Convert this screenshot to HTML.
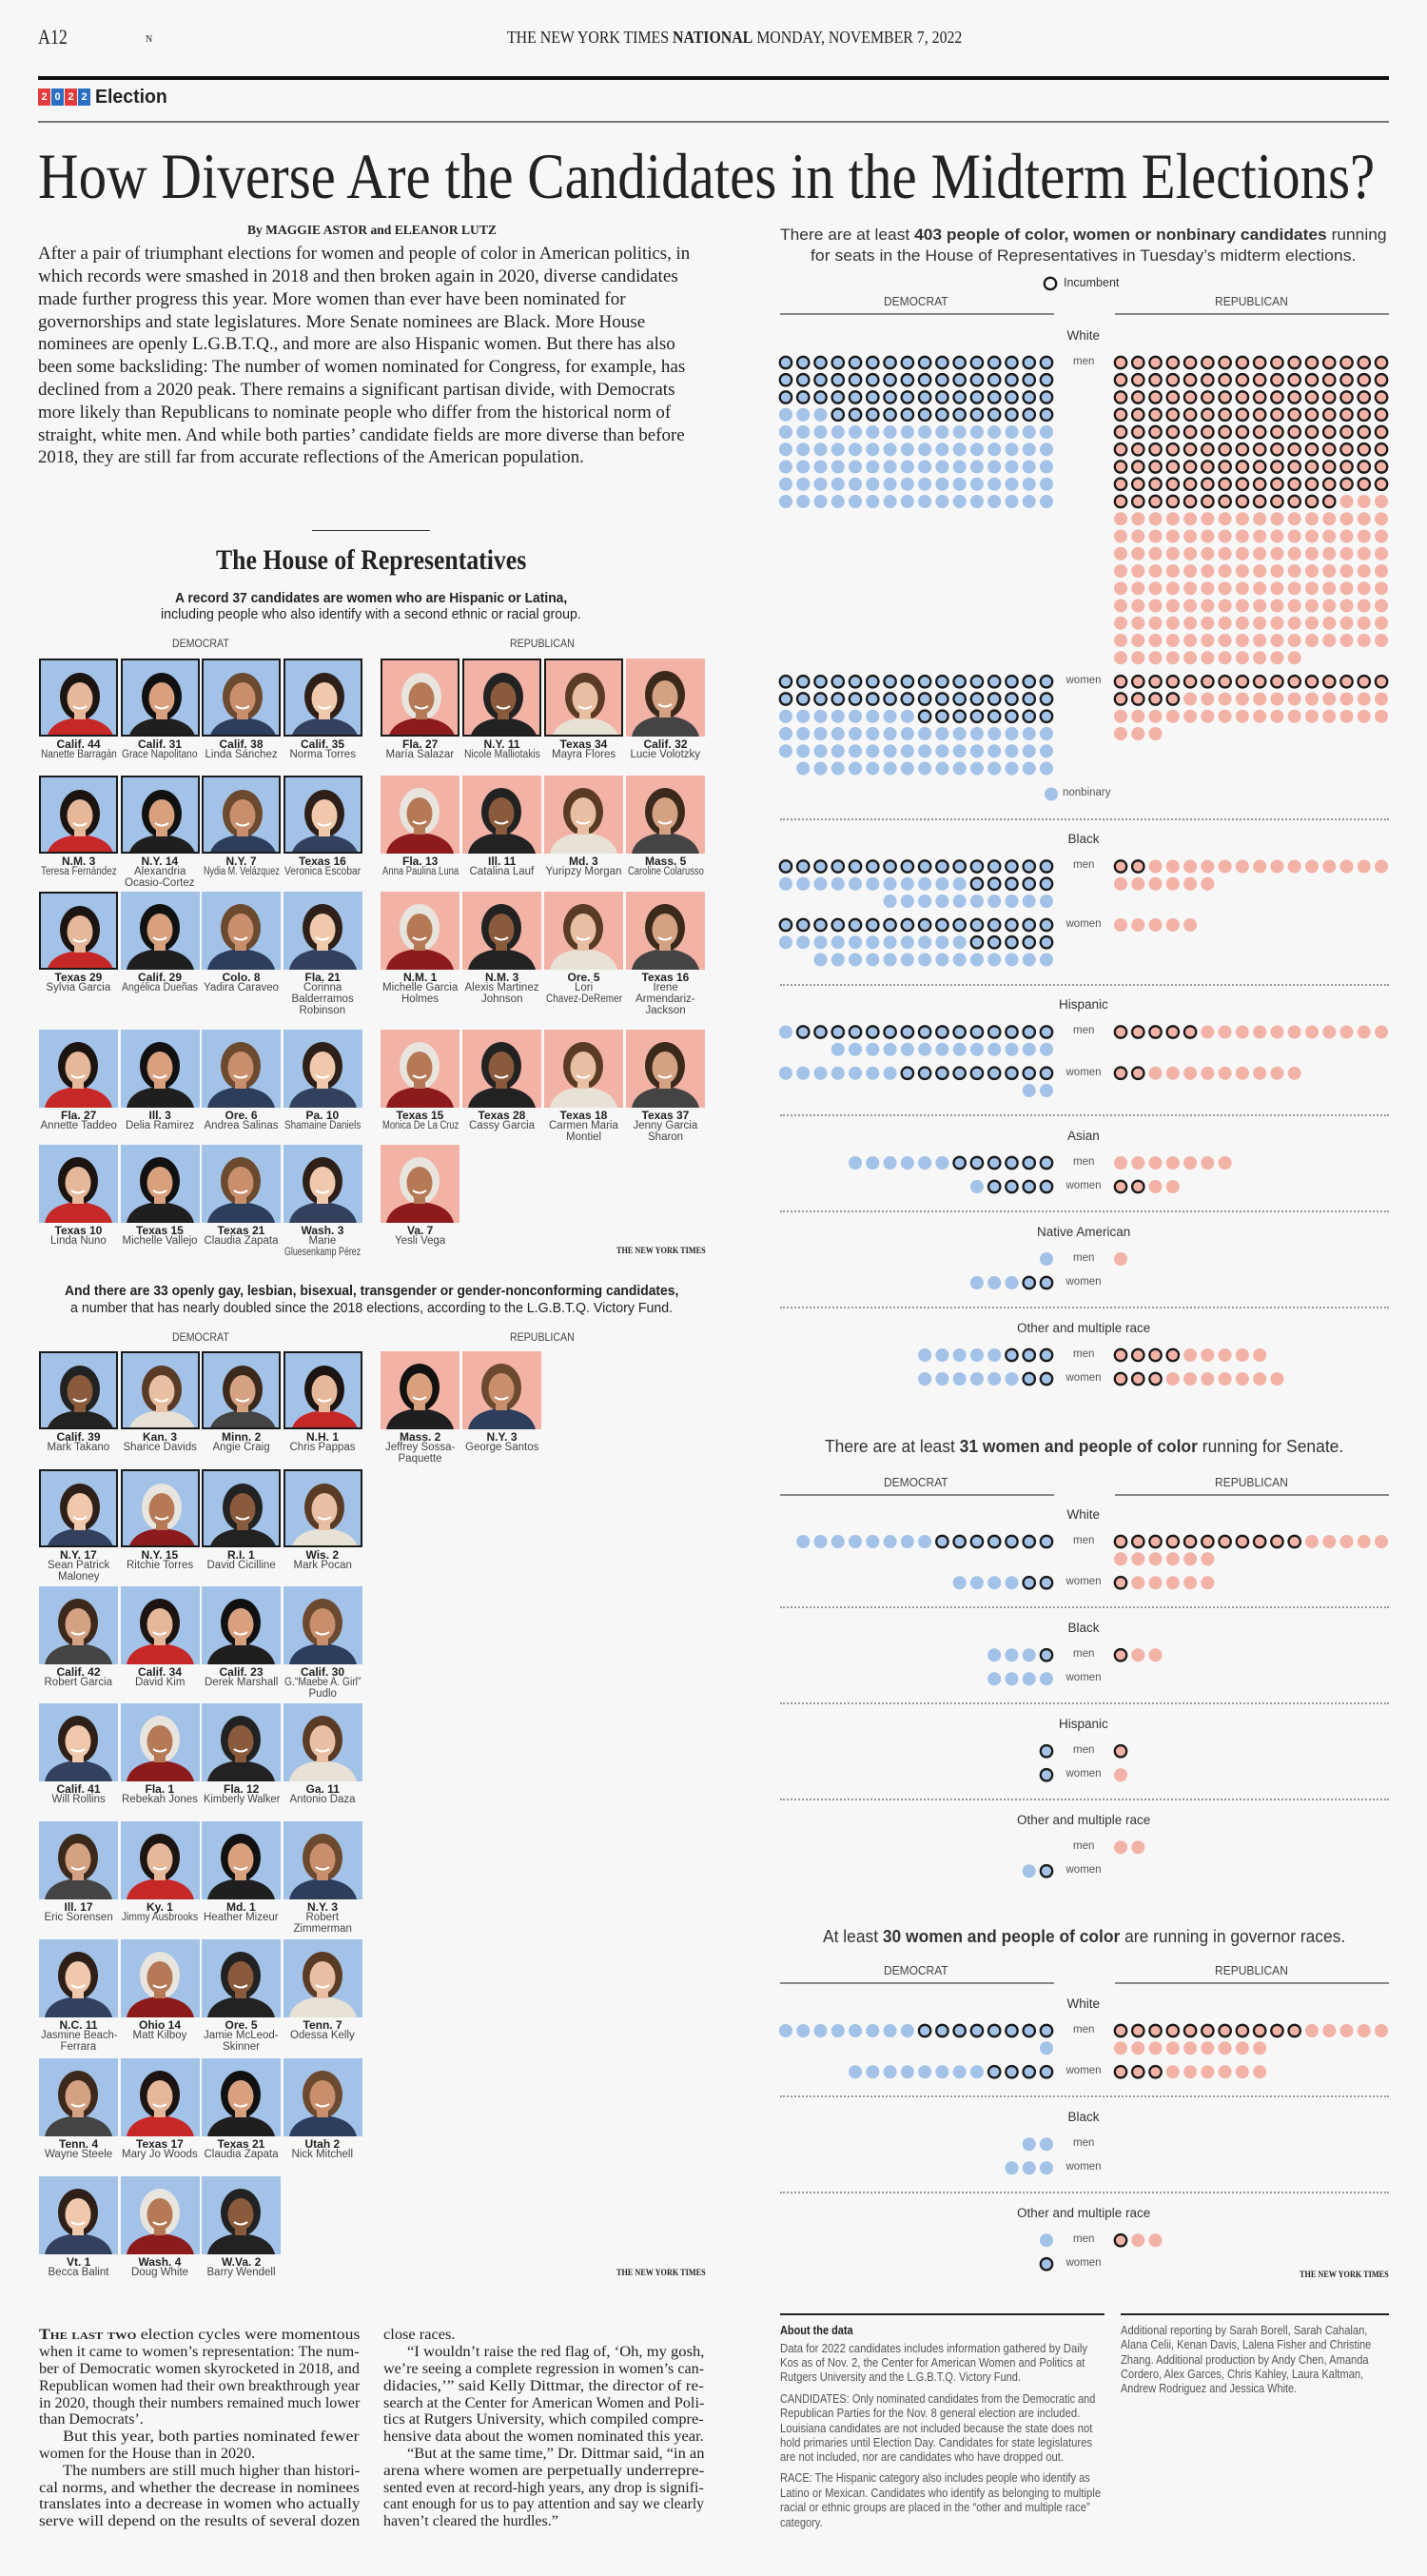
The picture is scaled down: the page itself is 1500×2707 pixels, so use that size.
<!DOCTYPE html>
<html><head><meta charset="utf-8">
<style>
html,body{margin:0;padding:0;background:#f7f7f8;}
#page{position:relative;width:1500px;height:2707px;overflow:hidden;background:#f7f7f8;font-family:"Liberation Sans",sans-serif;color:#222;}
.t{position:absolute;white-space:nowrap;transform-origin:0 50%;}
.ph{position:absolute;width:83px;height:82px;box-sizing:border-box;overflow:hidden;}
.ph.inc{border:2px solid #1a1a1a;}
.rule{position:absolute;}
</style></head>
<body>
<div id="page">
<svg id="dots" width="1500" height="2707" style="position:absolute;left:0;top:0"></svg>
</div>
<script>
// ---------------- CHART DATA ----------------
const houseCategories=['White','Black','Hispanic','Asian','Native American','Other and multiple race'];
const houseDemMen=[144,42,29,12,1,8];
const houseDemMenInc=[61,21,15,6,0,3];
const houseDemWomen=[95,46,18,5,5,8];
const houseDemWomenInc=[40,21,9,4,2,2];
const houseRepMen=[283,22,16,7,1,9];
const houseRepMenInc=[141,2,5,0,0,4];
const houseRepWomen=[51,5,11,4,0,10];
const houseRepWomenInc=[20,0,2,2,0,3];
const houseDemNonbinary=[1];

const senateCategories=['White','Black','Hispanic','Other and multiple race'];
const senateDemMen=[15,4,1,0];
const senateDemMenInc=[7,1,1,0];
const senateDemWomen=[6,4,1,2];
const senateDemWomenInc=[2,0,1,1];
const senateRepMen=[22,3,1,2];
const senateRepMenInc=[11,1,1,0];
const senateRepWomen=[6,0,1,0];
const senateRepWomenInc=[1,0,0,0];

const govCategories=['White','Black','Other and multiple race'];
const govDemMen=[17,2,1];
const govDemMenInc=[8,0,0];
const govDemWomen=[12,3,1];
const govDemWomenInc=[4,0,1];
const govRepMen=[25,0,3];
const govRepMenInc=[11,0,1];
const govRepWomen=[9,0,0];
const govRepWomenInc=[3,0,0];

const page=document.getElementById('page');
const svg=document.getElementById('dots');
const NS='http://www.w3.org/2000/svg';
const BLUE='#a2c2e8', RED='#f3b2a6';

function T(html,x,y,size,o){
  o=o||{};
  const el=document.createElement('div');
  el.className='t';
  
  
  el.innerHTML=html;
  el.style.fontSize=size+'px';
  el.style.lineHeight=(size*1.2)+'px';
  el.style.fontFamily=o.serif?'"Liberation Serif",serif':'"Liberation Sans",sans-serif';
  if(o.weight) el.style.fontWeight=o.weight;
  el.style.color=o.color||'#222';
  el.style.top=(y-size*0.62)+'px';
  el.style.left='0px';
  page.appendChild(el);
  const nw=el.offsetWidth;
  let s=1;
  if(o.fit) s=o.fit/nw;
  if(o.maxw && nw>o.maxw) s=o.maxw/nw;
  const w=nw*s;
  const al=o.align||'left';
  const left= al==='center'? x-w/2 : al==='right'? x-w : x;
  el.style.left=left+'px';
  if(s!==1) el.style.transform='scaleX('+s+')';
  return el;
}
function R(x,y,w,h,c,name,dotted){
  const el=document.createElement('div');
  el.className='rule';
  
  
  el.style.left=x+'px';el.style.top=y+'px';el.style.width=w+'px';
  if(dotted){el.style.borderTop=h+'px dotted '+c;}
  else{el.style.height=h+'px';el.style.background=c;}
  page.appendChild(el);
}

// ---------------- HEADER ----------------
T('A12',40,40,22,{serif:1,fit:31,name:'page-number'});
T('N',153,42,10,{serif:1,name:'edition-mark'});
T('THE NEW YORK TIMES <b>NATIONAL</b> MONDAY, NOVEMBER 7, 2022',533,40,18,{serif:1,fit:478,name:'masthead-dateline'});
R(40,80,1420,4,'#111','top-rule');
(function(){
  const cols=['#e23b3b','#2a6fc4','#e23b3b','#2a6fc4'];
  ['2','0','2','2'].forEach((d,i)=>{
    const b=document.createElement('div');
    
    
    b.style.cssText='position:absolute;left:'+(40+i*14)+'px;top:93px;width:13px;height:18px;background:'+cols[i]+';color:#fff;font:bold 11px "Liberation Sans",sans-serif;text-align:center;line-height:18px;';
    b.textContent=d;page.appendChild(b);
  });
})();
T('Election',100,102,20,{weight:'bold',fit:76,name:'section-label'});
R(40,127,1420,2,'#777','section-rule');
T('How Diverse Are the Candidates in the Midterm Elections?',40,187,68,{serif:1,fit:1405,name:'headline'});
T('By MAGGIE ASTOR and ELEANOR LUTZ',260,244,14,{serif:1,weight:'bold',fit:262,name:'byline'});

const introLines=["After a pair of triumphant elections for women and people of color in American politics, in",
"which records were smashed in 2018 and then broken again in 2020, diverse candidates",
"made further progress this year. More women than ever have been nominated for",
"governorships and state legislatures. More Senate nominees are Black. More House",
"nominees are openly L.G.B.T.Q., and more are also Hispanic women. But there has also",
"been some backsliding: The number of women nominated for Congress, for example, has",
"declined from a 2020 peak. There remains a significant partisan divide, with Democrats",
"more likely than Republicans to nominate people who differ from the historical norm of",
"straight, white men. And while both parties\u2019 candidate fields are more diverse than before",
"2018, they are still far from accurate reflections of the American population."];
const introW=[685,673,618,638,670,680,670,665,680,574];
introLines.forEach((l,i)=>T(l,40,268+i*23.8,19,{serif:1,fit:introW[i],name:'intro-paragraph-line'}));

// ---------------- PHOTO GRIDS ----------------
const skins=['#e6b89a','#d9a07e','#c98f6c','#f0c9ad','#b57a55','#8a5a3c','#e8bfa2','#d4a283'];
const hairs=['#1c1410','#2e2018','#5a3b25','#111','#e8e4de','#3b2a1c','#6b4a30','#222'];
const clothes=['#c62828','#222','#2d3e5c','#444','#8e1b1b','#1f1f1f','#e8e2d6','#33415e'];
let pidx=0;
function photo(x,y,party,inc,district,name){
  const d=document.createElement('div');
  d.className='ph'+(inc?' inc':'');
  
  
  d.style.left=x+'px';d.style.top=y+'px';
  d.style.background=party==='D'?BLUE:RED;
  const i=pidx++;
  const sk=skins[i%8],hr=hairs[(i*3)%8],cl=clothes[(i*5)%8];
  d.innerHTML='<svg width="83" height="82" viewBox="0 0 83 82"><ellipse cx="41" cy="38" rx="21" ry="25" fill="'+hr+'"/><path d="M6 82 Q10 62 41 60 Q72 62 77 82Z" fill="'+cl+'"/><rect x="35" y="50" width="12" height="12" fill="'+sk+'"/><ellipse cx="41" cy="40" rx="13.5" ry="17" fill="'+sk+'"/><path d="M34 48 Q41 53 48 48" stroke="#fff" stroke-width="2" fill="none"/></svg>';
  page.appendChild(d);
  T(district,x+41.5,y+90,12,{align:'center',weight:'bold',maxw:80,name:'district-label'});
  name.split('\n').forEach((n,k)=>T(n,x+41.5,y+102+k*12,11.5,{align:'center',color:'#444',maxw:80,name:'candidate-name'}));
}
const DX=[41,126.5,212,297.5], RX=[400,486,572,658];

R(328,557,124,1,'#333','house-title-rule');
T('The House of Representatives',390,590,30,{serif:1,weight:'bold',align:'center',fit:326,name:'house-section-title'});
T('A record 37 candidates are women who are Hispanic or Latina,',390,629,15,{weight:'bold',align:'center',fit:412,name:'latina-subtitle'});
T('including people who also identify with a second ethnic or racial group.',390,646,15,{align:'center',fit:442,name:'latina-subtitle-2'});
T('DEMOCRAT',211,676,12,{align:'center',color:'#444',fit:60,name:'photo-democrat-header'});
T('REPUBLICAN',570,676,12,{align:'center',color:'#444',fit:68,name:'photo-republican-header'});

const latinaRows=[692,815,937,1082,1203];
const latinaDem=[
 [['Calif. 44','Nanette Barragán',1],['Calif. 31','Grace Napolitano',1],['Calif. 38','Linda Sánchez',1],['Calif. 35','Norma Torres',1]],
 [['N.M. 3','Teresa Fernández',1],['N.Y. 14','Alexandria\nOcasio-Cortez',1],['N.Y. 7','Nydia M. Velázquez',1],['Texas 16','Veronica Escobar',1]],
 [['Texas 29','Sylvia Garcia',1],['Calif. 29','Angélica Dueñas',0],['Colo. 8','Yadira Caraveo',0],['Fla. 21','Corinna\nBalderramos\nRobinson',0]],
 [['Fla. 27','Annette Taddeo',0],['Ill. 3','Delia Ramirez',0],['Ore. 6','Andrea Salinas',0],['Pa. 10','Shamaine Daniels',0]],
 [['Texas 10','Linda Nuno',0],['Texas 15','Michelle Vallejo',0],['Texas 21','Claudia Zapata',0],['Wash. 3','Marie\nGluesenkamp Pérez',0]]];
const latinaRep=[
 [['Fla. 27','María Salazar',1],['N.Y. 11','Nicole Malliotakis',1],['Texas 34','Mayra Flores',1],['Calif. 32','Lucie Volotzky',0]],
 [['Fla. 13','Anna Paulina Luna',0],['Ill. 11','Catalina Lauf',0],['Md. 3','Yuripzy Morgan',0],['Mass. 5','Caroline Colarusso',0]],
 [['N.M. 1','Michelle Garcia\nHolmes',0],['N.M. 3','Alexis Martinez\nJohnson',0],['Ore. 5','Lori\nChavez-DeRemer',0],['Texas 16','Irene\nArmendariz-\nJackson',0]],
 [['Texas 15','Monica De La Cruz',0],['Texas 28','Cassy Garcia',0],['Texas 18','Carmen Maria\nMontiel',0],['Texas 37','Jenny Garcia\nSharon',0]],
 [['Va. 7','Yesli Vega',0]]];
latinaRows.forEach((y,r)=>{
  latinaDem[r].forEach((p,c)=>photo(DX[c],y,'D',p[2],p[0],p[1]));
  latinaRep[r].forEach((p,c)=>photo(RX[c],y,'R',p[2],p[0],p[1]));
});
T('THE NEW YORK TIMES',742,1315,9,{serif:1,weight:'bold',align:'right',fit:94,name:'credit-latina'});

T('And there are 33 openly gay, lesbian, bisexual, transgender or gender-nonconforming candidates,',390,1357,15,{weight:'bold',align:'center',fit:645,name:'lgbtq-subtitle'});
T('a number that has nearly doubled since the 2018 elections, according to the L.G.B.T.Q. Victory Fund.',390,1375,15,{align:'center',fit:633,name:'lgbtq-subtitle-2'});
T('DEMOCRAT',211,1405,12,{align:'center',color:'#444',fit:60,name:'lgbtq-democrat-header'});
T('REPUBLICAN',570,1405,12,{align:'center',color:'#444',fit:68,name:'lgbtq-republican-header'});
const lgRows=[1420,1544,1667,1790,1914,2038,2163,2287];
const lgDem=[
 [['Calif. 39','Mark Takano',1],['Kan. 3','Sharice Davids',1],['Minn. 2','Angie Craig',1],['N.H. 1','Chris Pappas',1]],
 [['N.Y. 17','Sean Patrick\nMaloney',1],['N.Y. 15','Ritchie Torres',1],['R.I. 1','David Cicilline',1],['Wis. 2','Mark Pocan',1]],
 [['Calif. 42','Robert Garcia',0],['Calif. 34','David Kim',0],['Calif. 23','Derek Marshall',0],['Calif. 30','G.“Maebe A. Girl”\nPudlo',0]],
 [['Calif. 41','Will Rollins',0],['Fla. 1','Rebekah Jones',0],['Fla. 12','Kimberly Walker',0],['Ga. 11','Antonio Daza',0]],
 [['Ill. 17','Eric Sorensen',0],['Ky. 1','Jimmy Ausbrooks',0],['Md. 1','Heather Mizeur',0],['N.Y. 3','Robert\nZimmerman',0]],
 [['N.C. 11','Jasmine Beach-\nFerrara',0],['Ohio 14','Matt Kilboy',0],['Ore. 5','Jamie McLeod-\nSkinner',0],['Tenn. 7','Odessa Kelly',0]],
 [['Tenn. 4','Wayne Steele',0],['Texas 17','Mary Jo Woods',0],['Texas 21','Claudia Zapata',0],['Utah 2','Nick Mitchell',0]],
 [['Vt. 1','Becca Balint',0],['Wash. 4','Doug White',0],['W.Va. 2','Barry Wendell',0]]];
const lgRep=[[['Mass. 2','Jeffrey Sossa-\nPaquette',0],['N.Y. 3','George Santos',0]]];
lgRows.forEach((y,r)=>{
  lgDem[r].forEach((p,c)=>photo(DX[c],y,'D',p[2],p[0],p[1]));
  (lgRep[r]||[]).forEach((p,c)=>photo(RX[c],y,'R',p[2],p[0],p[1]));
});
T('THE NEW YORK TIMES',742,2389,9,{serif:1,weight:'bold',align:'right',fit:94,name:'credit-lgbtq'});

// ---------------- DOT CHARTS ----------------
const DEM_X0=1100, REP_X0=1178, STEP=18.27, ROWH=18.25, MIDX=1139;
function dot(x,y,party,inc,name){
  const c=document.createElementNS(NS,'circle');
  
  
  c.setAttribute('cx',x);c.setAttribute('cy',y);
  c.setAttribute('r',inc?6.2:7);
  c.setAttribute('fill',party==='D'?BLUE:RED);
  if(inc){c.setAttribute('stroke','#1a1a1a');c.setAttribute('stroke-width','2.3');}
  svg.appendChild(c);
}
function side(party,n,inc,y0,name){
  for(let k=0;k<n;k++){
    const row=Math.floor(k/16),col=k%16;
    const x=party==='D'?DEM_X0-col*STEP:REP_X0+col*STEP;
    dot(x,y0+row*ROWH,party,k<inc,name);
  }
  return Math.max(1,Math.ceil(n/16));
}
function partyHeaders(y,prefix){
  T('DEMOCRAT',963,y,12.5,{align:'center',color:'#444',fit:68,name:prefix+'-democrat-header'});
  T('REPUBLICAN',1315,y,12.5,{align:'center',color:'#444',fit:77,name:prefix+'-republican-header'});
  R(820,y+11,288,2,'#888',prefix+'-democrat-rule');
  R(1172,y+11,288,2,'#888',prefix+'-republican-rule');
}
function drawChart(prefix,cats,dm,dmi,dw,dwi,rm,rmi,rw,rwi,startY,nonbinary){
  let y=startY;
  cats.forEach((cat,i)=>{
    T(cat,MIDX,y,13.5,{align:'center',color:'#333',name:prefix+'-category-title'});
    const menY=y+28;
    const r1=Math.max(Math.ceil(dm[i]/16),Math.ceil(rm[i]/16),1);
    side('D',dm[i],dmi[i],menY,prefix+'-dem-men-dot');
    side('R',rm[i],rmi[i],menY,prefix+'-rep-men-dot');
    T('men',MIDX,menY,11.5,{align:'center',color:'#555',name:prefix+'-men-label'});
    const wY=menY+(r1-1)*ROWH+25;
    const r2=Math.max(Math.ceil(dw[i]/16),Math.ceil(rw[i]/16),1);
    side('D',dw[i],dwi[i],wY,prefix+'-dem-women-dot');
    side('R',rw[i],rwi[i],wY,prefix+'-rep-women-dot');
    T('women',MIDX,wY,11.5,{align:'center',color:'#555',name:prefix+'-women-label'});
    let last=wY+(r2-1)*ROWH;
    if(nonbinary && i===0){
      last+=27;
      for(let k=0;k<nonbinary[0];k++) dot(MIDX-34+k*STEP,last,'D',false,prefix+'-nonbinary-dot');
      T('nonbinary',MIDX-22,last,11.5,{color:'#555',name:prefix+'-nonbinary-label'});
    }
    if(i<cats.length-1){
      R(820,last+25,640,2,'#999',prefix+'-section-divider',true);
      y=last+48;
    }
  });
}
// House
T('There are at least <b>403 people of color, women or nonbinary candidates</b> running',820,248,17,{color:'#333',fit:638,name:'house-chart-title'});
T('for seats in the House of Representatives in Tuesday\u2019s midterm elections.',852,270,17,{color:'#333',fit:573,name:'house-chart-title-2'});
dot(1104,298,'L',true,'incumbent-legend-dot');
svg.lastChild.setAttribute('fill','none');
T('Incumbent',1118,298,12.5,{color:'#333',name:'incumbent-legend-label'});
partyHeaders(318,'house');
drawChart('house',houseCategories,houseDemMen,houseDemMenInc,houseDemWomen,houseDemWomenInc,houseRepMen,houseRepMenInc,houseRepWomen,houseRepWomenInc,353,houseDemNonbinary);
// Senate
T('There are at least <b>31 women and people of color</b> running for Senate.',867,1521,18,{color:'#333',fit:545,name:'senate-chart-title'});
partyHeaders(1559,'senate');
drawChart('senate',senateCategories,senateDemMen,senateDemMenInc,senateDemWomen,senateDemWomenInc,senateRepMen,senateRepMenInc,senateRepWomen,senateRepWomenInc,1592,null);
// Governor
T('At least <b>30 women and people of color</b> are running in governor races.',865,2036,18,{color:'#333',fit:549,name:'governor-chart-title'});
partyHeaders(2072,'governor');
drawChart('governor',govCategories,govDemMen,govDemMenInc,govDemWomen,govDemWomenInc,govRepMen,govRepMenInc,govRepWomen,govRepWomenInc,2106,null);
T('THE NEW YORK TIMES',1460,2391,9,{serif:1,weight:'bold',align:'right',fit:94,name:'credit-charts'});

// ---------------- BOTTOM TEXT ----------------
const col1=[['<b style="font-variant:small-caps">The last two</b> election cycles were momentous',337,0],
['when it came to women\u2019s representation: The num-',337,0],
['ber of Democratic women skyrocketed in 2018, and',337,0],
['Republican women had their own breakthrough year',337,0],
['in 2020, though their numbers remained much lower',337,0],
['than Democrats\u2019.',110,0],
['But this year, both parties nominated fewer',312,25],
['women for the House than in 2020.',227,0],
['The numbers are still much higher than histori-',312,25],
['cal norms, and whether the decrease in nominees',337,0],
['translates into a decrease in women who actually',337,0],
['serve will depend on the results of several dozen',337,0]];
col1.forEach((l,i)=>T(l[0],41+l[2],2455+i*17.8,15.5,{serif:1,fit:l[1],name:'article-column-1-line'}));
const col2=[['close races.',75,0],
['\u201cI wouldn\u2019t raise the red flag of, \u2018Oh, my gosh,',312,25],
['we\u2019re seeing a complete regression in women\u2019s can-',337,0],
['didacies,\u2019\u201d said Kelly Dittmar, the director of re-',337,0],
['search at the Center for American Women and Poli-',337,0],
['tics at Rutgers University, which compiled compre-',337,0],
['hensive data about the women nominated this year.',337,0],
['\u201cBut at the same time,\u201d Dr. Dittmar said, \u201cin an',312,25],
['arena where women are perpetually underrepre-',337,0],
['sented even at record-high years, any drop is signifi-',337,0],
['cant enough for us to pay attention and say we clearly',337,0],
['haven\u2019t cleared the hurdles.\u201d',184,0]];
col2.forEach((l,i)=>T(l[0],403+l[2],2455+i*17.8,15.5,{serif:1,fit:l[1],name:'article-column-2-line'}));

R(820,2431,341,2,'#222','about-data-rule');
R(1178,2431,282,2,'#222','credits-rule');
T('About the data',820,2450,12.5,{weight:'bold',fit:77,name:'about-data-heading'});
const about=[['Data for 2022 candidates includes information gathered by Daily',2469,323],
['Kos as of Nov. 2, the Center for American Women and Politics at',2484,320],
['Rutgers University and the L.G.B.T.Q. Victory Fund.',2499,253],
['CANDIDATES: Only nominated candidates from the Democratic and',2522,331],
['Republican Parties for the Nov. 8 general election are included.',2537,315],
['Louisiana candidates are not included because the state does not',2553,328],
['hold primaries until Election Day. Candidates for state legislatures',2568,328],
['are not included, nor are candidates who have dropped out.',2583,298],
['RACE: The Hispanic category also includes people who identify as',2605,326],
['Latino or Mexican. Candidates who identify as belonging to multiple',2621,337],
['racial or ethnic groups are placed in the \u201cother and multiple race\u201d',2636,326],
['category.',2652,45]];
about.forEach(l=>T(l[0],820,l[1],12.5,{color:'#555',fit:l[2],name:'about-data-line'}));
const credits=[['Additional reporting by Sarah Borell, Sarah Cahalan,',2450,259],
['Alana Celii, Kenan Davis, Lalena Fisher and Christine',2465,263],
['Zhang. Additional production by Andy Chen, Amanda',2481,261],
['Cordero, Alex Garces, Chris Kahley, Laura Kaltman,',2496,255],
['Andrew Rodriguez and Jessica White.',2511,185]];
credits.forEach(l=>T(l[0],1178,l[1],12.5,{color:'#555',fit:l[2],name:'credits-line'}));
</script>
</body></html>
